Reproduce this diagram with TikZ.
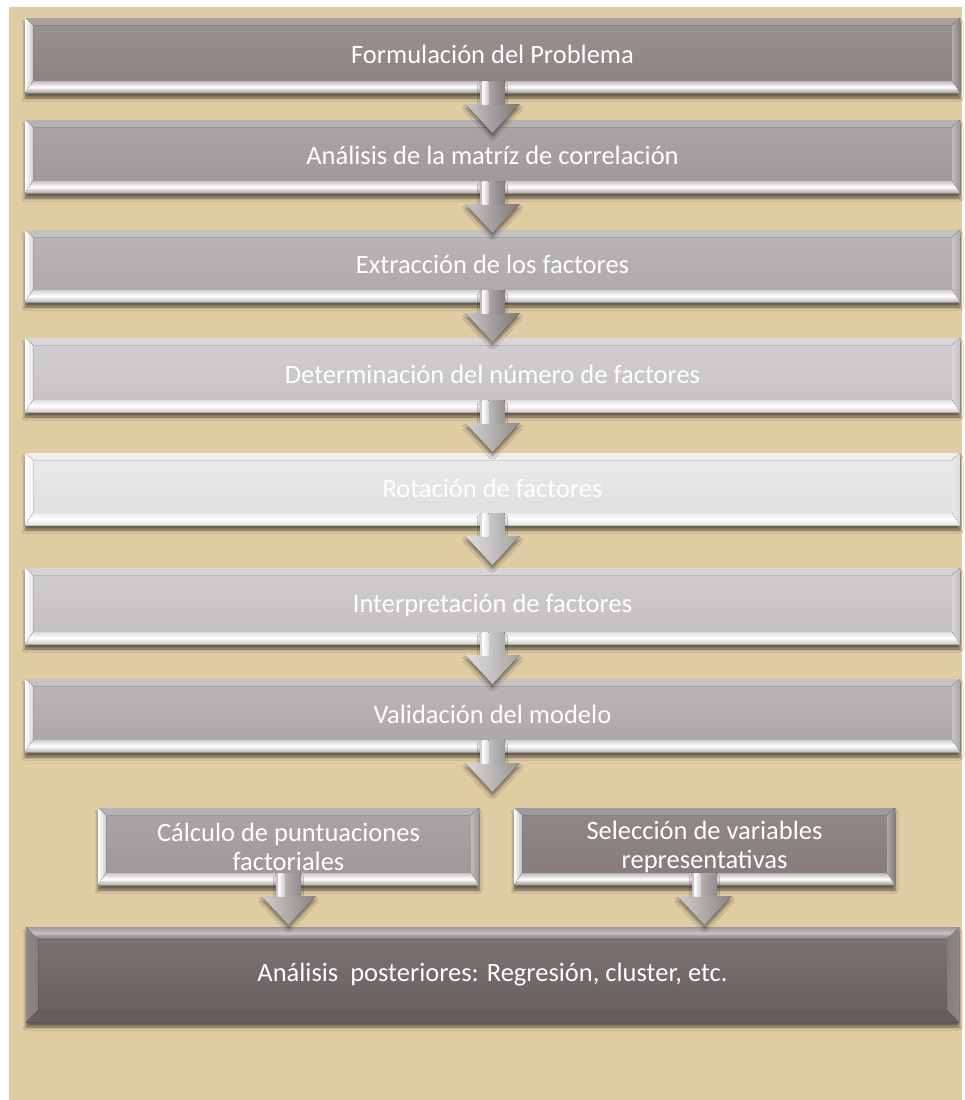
\documentclass[tikz,border=0pt]{standalone}
\usepackage{fontspec}
\setmainfont{Carlito}
\usetikzlibrary{calc,shadows.blur}
\definecolor{bgtan}{HTML}{E0CCA3}
\definecolor{fat}{HTML}{9B9292}\definecolor{fab}{HTML}{8A8080}
\definecolor{fbt}{HTML}{ABA6A6}\definecolor{fbb}{HTML}{9D9797}
\definecolor{fct}{HTML}{BAB6B6}\definecolor{fcb}{HTML}{ADA8A8}
\definecolor{fdt}{HTML}{D2CFCF}\definecolor{fdb}{HTML}{C6C2C2}
\definecolor{fet}{HTML}{ECEAEB}\definecolor{feb}{HTML}{DEDCDC}
\definecolor{fft}{HTML}{D0CDCD}\definecolor{ffb}{HTML}{C2BEBE}
\definecolor{fgt}{HTML}{BBB7B7}\definecolor{fgb}{HTML}{ABA6A6}
\definecolor{fht}{HTML}{ABA5A5}\definecolor{fhb}{HTML}{9C9696}
\definecolor{fit}{HTML}{918888}\definecolor{fib}{HTML}{847A7A}
\definecolor{fjt}{HTML}{7E7575}\definecolor{fjb}{HTML}{665E5E}
\definecolor{arA}{HTML}{948D8D}
\definecolor{arB}{HTML}{ABA6A6}
\definecolor{arC}{HTML}{C2BFBF}
\definecolor{arD}{HTML}{B3AFAF}
\definecolor{arE}{HTML}{A29C9C}
\tikzset{
  boxtext/.style={text=white, font=\fontsize{26.5}{29}\selectfont, align=center},
  boxshadow/.style={blur shadow={shadow xshift=0pt, shadow yshift=-5pt,
      shadow blur radius=3pt, shadow opacity=55}},
  bevbox/.style 2 args={rectangle, inner sep=0pt, boxtext, draw=none,
    top color=#1, bottom color=#2, boxshadow,
    path picture={
      \fill[top color=#1!85!white, bottom color=#1]
        let \p1=(path picture bounding box.south west),
            \p2=(path picture bounding box.north east) in
        (\x1,\y2) -- (\x2,\y2) -- (\x2-8pt,\y2-7pt) -- (\x1+8pt,\y2-7pt) -- cycle;
      \fill[left color=#2!65!white, right color=#2]
        let \p1=(path picture bounding box.south west),
            \p2=(path picture bounding box.north east) in
        (\x2,\y1) -- (\x2,\y2) -- (\x2-8pt,\y2-7pt) -- (\x2-8pt,\y1+12pt) -- cycle;
      \fill[left color=white, right color=#1!55!white]
        let \p1=(path picture bounding box.south west),
            \p2=(path picture bounding box.north east) in
        (\x1,\y1) -- (\x1+8pt,\y1+12pt) -- (\x1+8pt,\y2-7pt) -- (\x1,\y2) -- cycle;
      \fill[top color=#2!55!white, bottom color=#2!80!white, middle color=white]
        let \p1=(path picture bounding box.south west),
            \p2=(path picture bounding box.north east) in
        (\x1,\y1) -- (\x2,\y1) -- (\x2-8pt,\y1+12pt) -- (\x1+8pt,\y1+12pt) -- cycle;
    }},
  topbox/.style 2 args={rectangle, inner sep=0pt, boxtext, draw=none,
    top color=#1, bottom color=#2, boxshadow,
    path picture={
      \fill[top color=#2!80!black, bottom color=#2]
        let \p1=(path picture bounding box.south west),
            \p2=(path picture bounding box.north east) in
        (\x1,\y1) -- (\x2,\y1) -- (\x2-12pt,\y1+12pt) -- (\x1+12pt,\y1+12pt) -- cycle;
      \fill[left color=#1!85!white, right color=#1!95!white]
        let \p1=(path picture bounding box.south west),
            \p2=(path picture bounding box.north east) in
        (\x1,\y1) -- (\x1+12pt,\y1+12pt) -- (\x1+12pt,\y2-12pt) -- (\x1,\y2) -- cycle;
      \fill[left color=#1!95!white, right color=#1!85!white]
        let \p1=(path picture bounding box.south west),
            \p2=(path picture bounding box.north east) in
        (\x2,\y1) -- (\x2,\y2) -- (\x2-12pt,\y2-12pt) -- (\x2-12pt,\y1+12pt) -- cycle;
      \fill[top color=#1!75!white, bottom color=#1, middle color=#1!45!white]
        let \p1=(path picture bounding box.south west),
            \p2=(path picture bounding box.north east) in
        (\x1,\y2) -- (\x2,\y2) -- (\x2-12pt,\y2-12pt) -- (\x1+12pt,\y2-12pt) -- cycle;
    }},
  arrowshadow/.style={blur shadow={shadow xshift=0pt, shadow yshift=-4pt,
      shadow blur radius=3pt, shadow opacity=45}}
}
\newcommand{\flowarr}[3]{%
  \path ($(#1.south)!-12pt!(#1.south |- #2.north)$) coordinate (at)
        ($(#1.south)!40pt!(#1.south |- #2.north)$) coordinate (ah);
  \fill[arrowshadow, left color=#3!50!white, right color=#3!85!black]
    ($(at)+(-12,0)$) -- ($(at)+(12,0)$) -- ($(at)+(12,23)$) -- ($(at)+(27,23)$)
    -- (ah) -- ($(at)+(-27,23)$) -- ($(at)+(-12,23)$) -- cycle;
  \fill[left color=#3!60!white, right color=#3!90!black]
    ($(at)+(-12,0)$) rectangle ($(at)+(12,23)$);
  \fill[left color=white, right color=#3!50!white]
    ($(at)+(-10,0)$) rectangle ($(at)+(-4,23)$);
}
\begin{document}
\begin{tikzpicture}[x=1pt,y=-1pt]
\useasboundingbox (0,0) rectangle (965,1100);
\fill[white] (0,0) rectangle (965,1100);
\fill[bgtan] (9,7) rectangle (962,1100);

\node[bevbox={fat}{fab}, minimum width=935pt, minimum height=75pt] (b1) at (492.5,55.5)
  {\raisebox{2.5pt}{Formulación del Problema}};
\node[bevbox={fbt}{fbb}, minimum width=935pt, minimum height=73pt] (b2) at (492.5,156.5)
  {\raisebox{2pt}{Análisis de la matríz de correlación}};
\node[bevbox={fct}{fcb}, minimum width=935pt, minimum height=72pt] (b3) at (492.5,266)
  {\raisebox{4pt}{Extracción de los factores}};
\node[bevbox={fdt}{fdb}, minimum width=935pt, minimum height=74pt] (b4) at (492.5,375)
  {\raisebox{2pt}{Determinación del número de factores}};
\node[bevbox={fet}{feb}, minimum width=935pt, minimum height=72pt] (b5) at (492.5,489)
  {\raisebox{1pt}{Rotación de factores}};
\node[bevbox={fft}{ffb}, minimum width=935pt, minimum height=76pt] (b6) at (492.5,606)
  {\raisebox{5pt}{Interpretación de factores}};
\node[bevbox={fgt}{fgb}, minimum width=935pt, minimum height=73pt] (b7) at (492.5,715.5)
  {\raisebox{2.5pt}{Validación del modelo}};
\node[bevbox={fht}{fhb}, minimum width=381pt, minimum height=77pt] (b8) at (288.5,846.5)
  {Cálculo de puntuaciones\\factoriales};
\node[bevbox={fit}{fib}, minimum width=381pt, minimum height=77pt] (b9) at (704.5,846.5)
  {Selección de variables\\representativas};
\node[topbox={fjt}{fjb}, minimum width=933pt, minimum height=95pt] (b10) at (492.5,974.5)
  {Análisis~ posteriores: Regresión, cluster, etc.};

\flowarr{b1}{b2}{arA}
\flowarr{b2}{b3}{arA}
\flowarr{b3}{b4}{arA}
\flowarr{b4}{b5}{arB}
\flowarr{b5}{b6}{arC}
\flowarr{b6}{b7}{arC}
\flowarr{b7}{b8}{arD}
\flowarr{b8}{b10}{arE}
\flowarr{b9}{b10}{arE}
\end{tikzpicture}
\end{document}
